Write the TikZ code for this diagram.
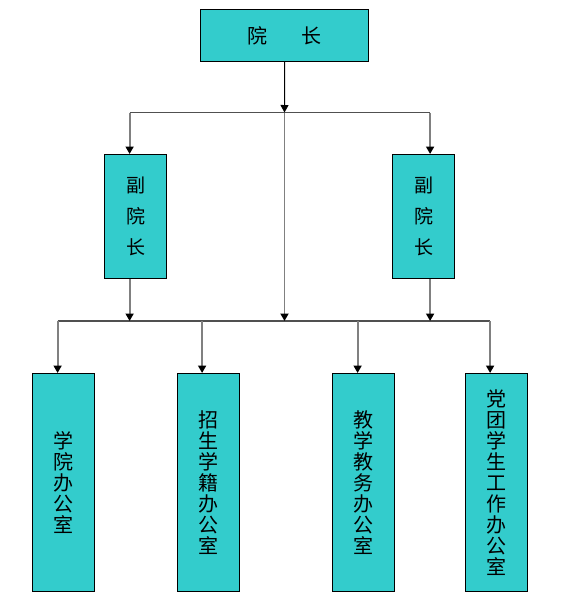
\documentclass[tikz,border=0pt]{standalone}
\usepackage{fontspec}
\newfontfamily\cjk{Noto Sans CJK SC}
\usetikzlibrary{arrows.meta}
\definecolor{boxfill}{HTML}{33CCCC}
\definecolor{vgray}{HTML}{808080}
\definecolor{hgray}{HTML}{505050}
\tikzset{
  orgbox/.style={draw=black, line width=1.2pt, fill=boxfill, inner sep=0pt, anchor=north west},
  vline/.style={draw=vgray, line width=1.8pt, -{Triangle[width=8pt,length=7.5pt,color=black,fill=black]}},
  hline/.style={draw=hgray, line width=1.3pt},
  topline/.style={draw=black, line width=1pt, -{Triangle[width=8pt,length=7.5pt,color=black,fill=black]}},
  bottomtext/.style={font=\cjk\fontsize{20}{21}\selectfont, align=center},
  vicetext/.style={font=\cjk\fontsize{19}{31}\selectfont, align=center},
}
\begin{document}
\begin{tikzpicture}[x=1pt,y=-1pt]
\useasboundingbox (0,0) rectangle (560,600);
% top box
\node[orgbox, minimum width=168pt, minimum height=52pt] (dean) at (200,9) {};
\node[font=\cjk\fontsize{20}{24}\selectfont] (deant) at (dean.center) {院\hspace{34pt}长};
% vice boxes
\node[orgbox, minimum width=62pt, minimum height=124pt] (v1) at (104,154) {};
\node[vicetext] (v1t) at (v1.center) {副\\院\\长};
\node[orgbox, minimum width=62pt, minimum height=124pt] (v2) at (392,154) {};
\node[vicetext] (v2t) at (v2.center) {副\\院\\长};
% bottom boxes
\node[orgbox, minimum width=62pt, minimum height=218pt] (b1) at (32,373) {};
\node[bottomtext] (b1t) at (b1.center) {学\\院\\办\\公\\室};
\node[orgbox, minimum width=62pt, minimum height=218pt] (b2) at (176.5,373) {};
\node[bottomtext] (b2t) at (b2.center) {招\\生\\学\\籍\\办\\公\\室};
\node[orgbox, minimum width=62pt, minimum height=218pt] (b3) at (332,373) {};
\node[bottomtext] (b3t) at (b3.center) {教\\学\\教\\务\\办\\公\\室};
\node[orgbox, minimum width=62pt, minimum height=218pt] (b4) at (464.5,373) {};
\node[bottomtext] (b4t) at (b4.center) {党\\团\\学\\生\\工\\作\\办\\公\\室};
% junction coordinates
\coordinate (j0) at (284.5,112.5);
\coordinate (j1) at (284.5,321);
\coordinate (v1top) at ([xshift=-6pt]v1.north);
\coordinate (v2top) at ([xshift=6.5pt]v2.north);
\coordinate (v1bot) at ([xshift=-6pt]v1.south);
\coordinate (v2bot) at ([xshift=6.5pt]v2.south);
\coordinate (b1top) at ([xshift=-6pt]b1.north);
\coordinate (b2top) at ([xshift=-6pt]b2.north);
\coordinate (b3top) at ([xshift=-6pt]b3.north);
\coordinate (b4top) at ([xshift=-6pt]b4.north);
% horizontal bars
\draw[hline] (v1top |- j0) -- (v2top |- j0);
\draw[hline] (b1top |- j1) -- (b4top |- j1);
% connectors
\draw[topline] (dean.south) -- (j0);
\draw[vline] (j0) -- (j1);
\draw[vline] (v1top |- j0) -- (v1top);
\draw[vline] (v2top |- j0) -- (v2top);
\draw[vline] (v1bot) -- (v1bot |- j1);
\draw[vline] (v2bot) -- (v2bot |- j1);
\draw[vline] (b1top |- j1) -- (b1top);
\draw[vline] (b2top |- j1) -- (b2top);
\draw[vline] (b3top |- j1) -- (b3top);
\draw[vline] (b4top |- j1) -- (b4top);
\end{tikzpicture}
\end{document}
